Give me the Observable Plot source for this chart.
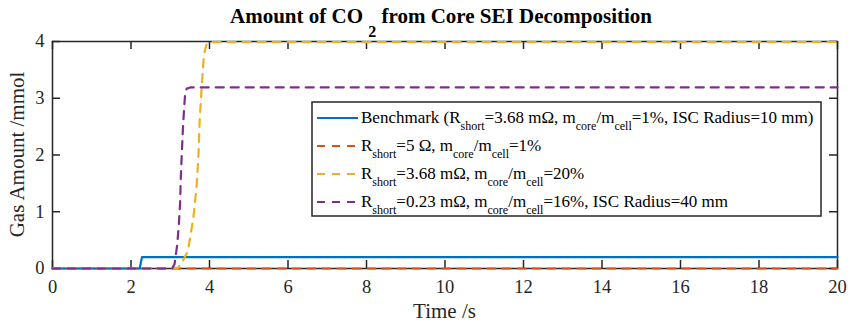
<!DOCTYPE html>
<html><head><meta charset="utf-8">
<script src="https://cdn.jsdelivr.net/npm/d3@7"></script>
<script src="https://cdn.jsdelivr.net/npm/@observablehq/plot@0.6"></script>
<style>
body{margin:0;background:#fff}
svg{display:block}
svg text, svg tspan{font-family:"Liberation Serif","Times New Roman",serif !important;}
</style>
</head><body><div id="chart"></div>
<script>
// ---- data ----
const xTicks = [0, 2, 4, 6, 8, 10, 12, 14, 16, 18, 20];
const yTicks = [0, 1, 2, 3, 4];

const benchTime = [0, 2.22, 2.28, 20];
const benchGas  = [0, 0, 0.2, 0.2];

const r5Time = [0, 20];
const r5Gas  = [0, 0];

const core20Time = [0, 3.18, 3.31, 3.45, 3.59, 3.67, 3.72, 3.75, 3.80, 3.86, 3.92, 3.99, 20];
const core20Gas  = [0, 0, 0.12, 0.31, 0.90, 1.43, 2.02, 2.61, 3.19, 3.78, 3.94, 3.99, 3.99];

const r023Time = [0, 3.05, 3.11, 3.18, 3.22, 3.25, 3.27, 3.29, 3.32, 3.35, 3.38, 3.42, 3.51, 20];
const r023Gas  = [0, 0, 0.08, 0.43, 0.79, 1.14, 1.61, 1.96, 2.43, 2.79, 3.08, 3.17, 3.19, 3.19];

const seriesColors = ["#0072BD", "#D95319", "#EDB120", "#7E2F8E"];
const seriesDash = [null, "8,7", "8,7", "8,7"];
// legend labels as [text, isSubscript] pieces
const legendLabels = [
  [["Benchmark (R",0],["short",1],["=3.68 mΩ, m",0],["core",1],["/m",0],["cell",1],["=1%, ISC Radius=10 mm)",0]],
  [["R",0],["short",1],["=5 Ω, m",0],["core",1],["/m",0],["cell",1],["=1%",0]],
  [["R",0],["short",1],["=3.68 mΩ, m",0],["core",1],["/m",0],["cell",1],["=20%",0]],
  [["R",0],["short",1],["=0.23 mΩ, m",0],["core",1],["/m",0],["cell",1],["=16%, ISC Radius=40 mm",0]]
];
const titleParts = [["Amount of CO ",0],["2",1],[" from Core SEI Decomposition",0]];
const xLabel = "Time /s";
const yLabel = "Gas Amount /mmol";

// ---- layout ----
const W = 848, H = 326, mL = 52, mR = 11, mT = 41, mB = 58;
const pW = W - mL - mR, pH = H - mT - mB;
const ink = "#262626";
const font = "Liberation Serif";

const series = [
  [benchTime, benchGas], [r5Time, r5Gas], [core20Time, core20Gas], [r023Time, r023Gas]
];

const svg = Plot.plot({
  width: W, height: H,
  marginLeft: mL, marginRight: mR, marginTop: mT, marginBottom: mB,
  style: {fontFamily: font, fontSize: "18px", color: ink, background: "#fff"},
  x: {domain: [0, 20]},
  y: {domain: [0, 4]},
  marks: [
    Plot.axisX({ticks: xTicks, tickSize: 0, tickPadding: 11, label: null,
      tickFormat: d3.format("d"), fontFamily: font, fontSize: 18.5, fill: ink}),
    Plot.axisY({ticks: yTicks, tickSize: 0, tickPadding: 8, label: null,
      tickFormat: d3.format("d"), fontFamily: font, fontSize: 18.5, fill: ink}),
    Plot.tickX(xTicks, {insetTop: pH - 8, stroke: ink, strokeWidth: 1.5}),
    Plot.tickX(xTicks, {insetBottom: pH - 8, stroke: ink, strokeWidth: 1.5}),
    Plot.tickY(yTicks, {insetRight: pW - 8, stroke: ink, strokeWidth: 1.5}),
    Plot.tickY(yTicks, {insetLeft: pW - 8, stroke: ink, strokeWidth: 1.5}),
    Plot.frame({stroke: ink, strokeWidth: 1.5}),
    ...series.map(([t, v], i) => Plot.line(t, {
      x: t, y: v, stroke: seriesColors[i], strokeWidth: 2.2,
      strokeDasharray: seriesDash[i] ?? undefined, curve: "linear"
    }))
  ]
});
document.getElementById("chart").appendChild(svg);

const s = d3.select(svg);
// title
const title = s.append("text").attr("x", 441).attr("y", 23)
  .attr("text-anchor", "middle").attr("font-family", font)
  .attr("font-weight", "bold").attr("font-size", 21).attr("fill", "#000");
titleParts.forEach(([txt, sub]) => {
  title.append("tspan").attr("font-size", sub ? 16 : 21)
    .attr("dy", sub ? 14 : (txt.startsWith(" ") ? -14 : 0)).text(txt);
});
// axis labels
s.append("text").attr("x", mL + pW / 2).attr("y", 318).attr("text-anchor", "middle")
  .attr("font-family", font).attr("font-size", 21).attr("fill", ink).text(xLabel);
s.append("text").attr("transform", `translate(24,${mT + pH / 2}) rotate(-90)`)
  .attr("text-anchor", "middle").attr("font-family", font).attr("font-size", 21)
  .attr("fill", ink).text(yLabel);

// legend
const lg = s.append("g");
lg.append("rect").attr("x", 312).attr("y", 102).attr("width", 509).attr("height", 114)
  .attr("fill", "#fff").attr("stroke", ink).attr("stroke-width", 1.5);
legendLabels.forEach((parts, i) => {
  const y = 118 + i * 28;
  lg.append("line").attr("x1", 317).attr("x2", 358).attr("y1", y).attr("y2", y)
    .attr("stroke", seriesColors[i]).attr("stroke-width", 2.2)
    .attr("stroke-dasharray", seriesDash[i]);
  const t = lg.append("text").attr("x", 361).attr("y", y + 4.5)
    .attr("text-anchor", "start")
    .attr("font-family", font).attr("font-size", 17).attr("fill", "#000");
  let prevSub = false;
  parts.forEach(([txt, sub]) => {
    const dy = sub && !prevSub ? 7 : (!sub && prevSub ? -7 : 0);
    t.append("tspan").attr("font-size", sub ? 12 : 17).attr("dy", dy).text(txt);
    prevSub = !!sub;
  });
});
</script>
</body></html>
